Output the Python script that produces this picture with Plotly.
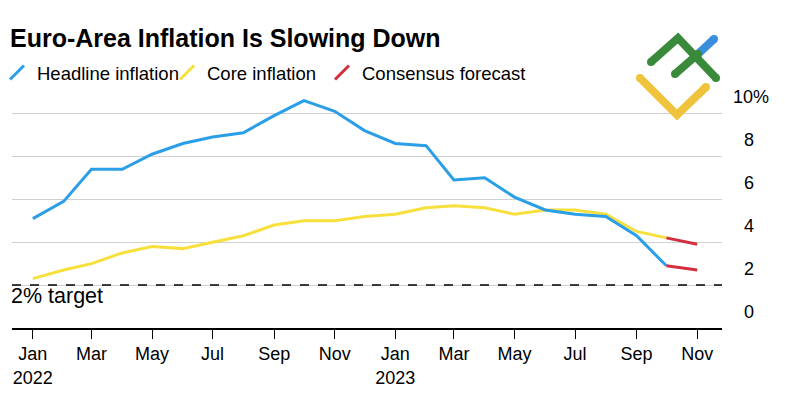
import plotly.graph_objects as go

months = ["2022-01-01", "2022-02-01", "2022-03-01", "2022-04-01", "2022-05-01", "2022-06-01",
          "2022-07-01", "2022-08-01", "2022-09-01", "2022-10-01", "2022-11-01", "2022-12-01",
          "2023-01-01", "2023-02-01", "2023-03-01", "2023-04-01", "2023-05-01", "2023-06-01",
          "2023-07-01", "2023-08-01", "2023-09-01", "2023-10-01"]
headline = [5.1, 5.9, 7.4, 7.4, 8.1, 8.6, 8.9, 9.1, 9.9, 10.6, 10.1, 9.2,
            8.6, 8.5, 6.9, 7.0, 6.1, 5.5, 5.3, 5.2, 4.3, 2.9]
core = [2.3, 2.7, 3.0, 3.5, 3.8, 3.7, 4.0, 4.3, 4.8, 5.0, 5.0, 5.2,
        5.3, 5.6, 5.7, 5.6, 5.3, 5.5, 5.5, 5.3, 4.5, 4.2]
forecast_months = ["2023-10-01", "2023-11-01"]
forecast_headline = [2.9, 2.7]
forecast_core = [4.2, 3.9]
x_tickvals = ["2022-01-01", "2022-03-01", "2022-05-01", "2022-07-01", "2022-09-01", "2022-11-01",
              "2023-01-01", "2023-03-01", "2023-05-01", "2023-07-01", "2023-09-01", "2023-11-01"]
x_ticktext = ["Jan<br>2022", "Mar", "May", "Jul", "Sep", "Nov",
              "Jan<br>2023", "Mar", "May", "Jul", "Sep", "Nov"]
y_ticks = [0, 2, 4, 6, 8, 10]
y_ticktext = ["0", "2", "4", "6", "8", "10%"]
target = 2

BLUE = "#2a9fe8"
YELLOW = "#f7e03c"
RED = "#d32f3c"
FONT = "Liberation Sans, Arial, sans-serif"

# page body has an 8px margin; figure is placed at (8, 8) in the window
OFF = 8
W, H = 777, 385
ML, MR, MT, MB = 4, 63, 84, 65
PW, PH = W - ML - MR, H - MT - MB

def px(x):
    """window pixel x -> paper x"""
    return (x - OFF - ML) / PW

def py(y):
    """window pixel y -> paper y"""
    return (H - MB - (y - OFF)) / PH

fig = go.Figure()
fig.add_trace(go.Scatter(x=months, y=core, mode="lines", line=dict(color=YELLOW, width=3),
                         showlegend=False, hoverinfo="skip"))
fig.add_trace(go.Scatter(x=months, y=headline, mode="lines", line=dict(color=BLUE, width=3),
                         showlegend=False, hoverinfo="skip"))
fig.add_trace(go.Scatter(x=forecast_months, y=forecast_core, mode="lines", line=dict(color=RED, width=3),
                         showlegend=False, hoverinfo="skip"))
fig.add_trace(go.Scatter(x=forecast_months, y=forecast_headline, mode="lines", line=dict(color=RED, width=3),
                         showlegend=False, hoverinfo="skip"))

# legend entries with slash symbols, one legend per entry for exact spacing
legend_items = [("Headline inflation", BLUE, "legend", -3),
                ("Core inflation", YELLOW, "legend2", 167),
                ("Consensus forecast", RED, "legend3", 322)]
legend_layout = {}
for name, col, lg, xpix in legend_items:
    fig.add_trace(go.Scatter(x=[None], y=[None], mode="markers", name=name, legend=lg,
                             marker=dict(symbol="line-ne", size=14, line=dict(color=col, width=3))))
    legend_layout[lg] = dict(orientation="h", xref="paper", yref="paper", x=px(xpix), y=py(73),
                             xanchor="left", yanchor="middle",
                             font=dict(size=18.5, family=FONT, color="black"),
                             bgcolor="rgba(0,0,0,0)", itemwidth=30)

# 2% target line
fig.add_shape(type="line", xref="paper", yref="y", x0=0, x1=1, y0=target, y1=target,
              line=dict(color="black", width=1.5, dash="dash"))
fig.add_annotation(text="2% target", xref="paper", yref="y", x=0, y=target, xanchor="left",
                   yanchor="top", showarrow=False, font=dict(size=21.5, color="black", family=FONT),
                   yshift=3, xshift=-3)

# y tick labels (right side, above gridlines)
for t, lab in zip(y_ticks, y_ticktext):
    right = 771 if lab.endswith("%") else 756
    fig.add_annotation(text=lab, xref="paper", yref="y", x=px(right), y=t, xanchor="right",
                       yanchor="bottom", showarrow=False, yshift=4,
                       font=dict(size=18, color="black", family=FONT))

# logo
def seg(points, color):
    path = "M " + " L ".join(f"{px(a)},{py(b)}" for a, b in points)
    fig.add_shape(type="path", xref="paper", yref="paper", path=path,
                  line=dict(color=color, width=8))
    for a, b in (points[0], points[-1]):
        r = 4
        fig.add_shape(type="circle", xref="paper", yref="paper",
                      x0=px(a - r), x1=px(a + r), y0=py(b + r), y1=py(b - r),
                      fillcolor=color, line=dict(width=0))

seg([(640, 78), (677, 115), (706, 87)], "#f0c33c")
seg([(698, 54), (714, 39)], "#3a8fdc")
seg([(651, 62), (678, 38), (716, 78)], "#3a8a3c")
seg([(675, 74), (698, 54)], "#3a8a3c")

fig.update_layout(
    width=W, height=H,
    margin=dict(l=ML, r=MR, t=MT, b=MB, autoexpand=False),
    paper_bgcolor="white", plot_bgcolor="white",
    font=dict(family=FONT, color="black", size=18),
    title=dict(text="<b>Euro-Area Inflation Is Slowing Down</b>", xref="container",
               x=(10 - OFF) / W, y=1 - (38 - OFF) / H, yanchor="middle", xanchor="left",
               font=dict(size=25, color="black", family=FONT)),
    showlegend=True,
    xaxis=dict(type="date", range=["2021-12-11", "2023-11-26"], tickvals=x_tickvals,
               ticktext=x_ticktext, tickangle=0, automargin=False,
               showgrid=False, showline=True, linecolor="black", linewidth=1.5,
               ticks="outside", ticklen=9, tickcolor="black", tickwidth=1,
               tickfont=dict(size=18, family=FONT), zeroline=False),
    yaxis=dict(range=[0, 11], tickvals=y_ticks, showticklabels=False, showgrid=True,
               gridcolor="#d0d0d0", gridwidth=1, zeroline=False, side="right", ticks="",
               automargin=False),
    **legend_layout,
)

fig.write_html("out.html")
